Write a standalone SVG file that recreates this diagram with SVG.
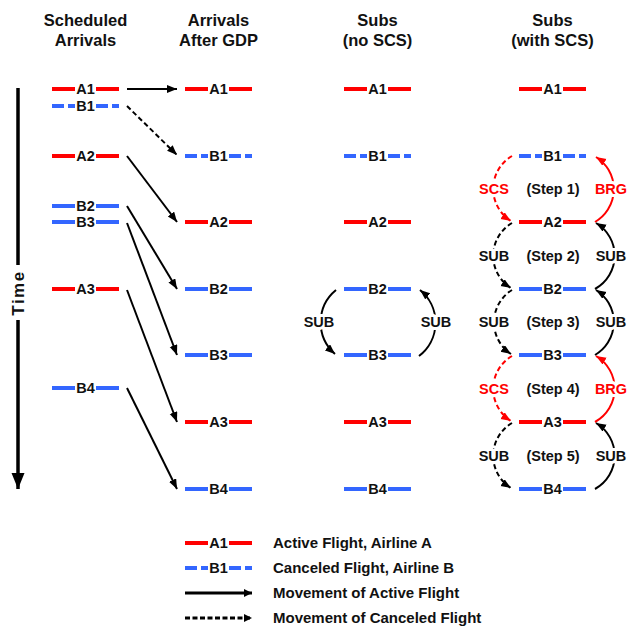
<svg xmlns="http://www.w3.org/2000/svg" width="629" height="629" viewBox="0 0 629 629">
<style>
text{font-family:"Liberation Sans",Arial,sans-serif;font-weight:bold;fill:#111}
.hd{font-size:16.5px;text-anchor:middle}
.fl{font-size:14.5px;text-anchor:middle}
.lb{font-size:14.5px;text-anchor:middle;stroke:#fff;stroke-width:6;paint-order:stroke;stroke-linejoin:round}
.lg{font-size:15px}
.red{fill:#ff0000}
.a{stroke:#ff0000;stroke-width:4}
.b{stroke:#3366ff;stroke-width:4}
.bd{stroke:#3366ff;stroke-width:4;stroke-dasharray:12 4}
.c{fill:none;stroke:#000;stroke-width:2;marker-end:url(#ah)}
.cd{fill:none;stroke:#000;stroke-width:2;stroke-dasharray:5 3;marker-end:url(#ah)}
.rc{fill:none;stroke:#ff0000;stroke-width:2;marker-end:url(#ahr)}
.rcd{fill:none;stroke:#ff0000;stroke-width:2;stroke-dasharray:5 3;marker-end:url(#ahr)}
.lgc{fill:none;stroke:#000;stroke-width:3;marker-end:url(#ahs)}
.lgcd{fill:none;stroke:#000;stroke-width:3;stroke-dasharray:5 2.5;marker-end:url(#ahs)}
</style>
<defs>
<marker id="ah" markerUnits="userSpaceOnUse" markerWidth="11" markerHeight="9" refX="10" refY="4" orient="auto"><path d="M0,0 L10,4 L0,8 z" fill="#000"/></marker>
<marker id="ahr" markerUnits="userSpaceOnUse" markerWidth="11" markerHeight="9" refX="10" refY="4" orient="auto"><path d="M0,0 L10,4 L0,8 z" fill="#ff0000"/></marker>
<marker id="ahs" markerUnits="userSpaceOnUse" markerWidth="9" markerHeight="9" refX="8" refY="4" orient="auto"><path d="M0,0 L8,4 L0,8 z" fill="#000"/></marker>
<marker id="ahT" markerUnits="userSpaceOnUse" markerWidth="17" markerHeight="14" refX="16" refY="6.5" orient="auto"><path d="M0,0 L16,6.5 L0,13 z" fill="#000"/></marker>
</defs>
<rect width="629" height="629" fill="#fff"/>

<g id="headers">
<text class="hd" x="85.5" y="26">Scheduled</text><text class="hd" x="85.5" y="46">Arrivals</text>
<text class="hd" x="218.5" y="26">Arrivals</text><text class="hd" x="218.5" y="46">After GDP</text>
<text class="hd" x="377.5" y="26">Subs</text><text class="hd" x="377.5" y="46">(no SCS)</text>
<text class="hd" x="552.5" y="26">Subs</text><text class="hd" x="552.5" y="46">(with SCS)</text>
</g>

<g id="time-axis">
<line x1="18" y1="88" x2="18" y2="265" stroke="#000" stroke-width="3.5"/>
<line x1="18" y1="320" x2="18" y2="489" stroke="#000" stroke-width="3.5" marker-end="url(#ahT)"/>
<text transform="translate(24,293) rotate(-90)" x="0" y="0" style="font-size:17px;letter-spacing:1.5px;text-anchor:middle">Time</text>
</g>

<!-- Column 1: Scheduled Arrivals -->
<g id="c1-A1"><line class="a" x1="52" y1="89" x2="75" y2="89"/><text class="fl" x="85.5" y="94">A1</text><line class="a" x1="96" y1="89" x2="119" y2="89"/></g>
<g id="c1-B1"><line class="bd" x1="52" y1="106" x2="75" y2="106"/><text class="fl" x="85.5" y="111">B1</text><line class="bd" x1="96" y1="106" x2="119" y2="106"/></g>
<g id="c1-A2"><line class="a" x1="52" y1="156" x2="75" y2="156"/><text class="fl" x="85.5" y="161">A2</text><line class="a" x1="96" y1="156" x2="119" y2="156"/></g>
<g id="c1-B2"><line class="b" x1="52" y1="206" x2="75" y2="206"/><text class="fl" x="85.5" y="211">B2</text><line class="b" x1="96" y1="206" x2="119" y2="206"/></g>
<g id="c1-B3"><line class="b" x1="52" y1="222" x2="75" y2="222"/><text class="fl" x="85.5" y="227">B3</text><line class="b" x1="96" y1="222" x2="119" y2="222"/></g>
<g id="c1-A3"><line class="a" x1="52" y1="289" x2="75" y2="289"/><text class="fl" x="85.5" y="294">A3</text><line class="a" x1="96" y1="289" x2="119" y2="289"/></g>
<g id="c1-B4"><line class="b" x1="52" y1="388" x2="75" y2="388"/><text class="fl" x="85.5" y="393">B4</text><line class="b" x1="96" y1="388" x2="119" y2="388"/></g>

<!-- Column 2: Arrivals After GDP -->
<g id="c2-A1"><line class="a" x1="185" y1="89" x2="208" y2="89"/><text class="fl" x="218.5" y="94">A1</text><line class="a" x1="229" y1="89" x2="252" y2="89"/></g>
<g id="c2-B1"><line class="bd" x1="185" y1="156" x2="208" y2="156"/><text class="fl" x="218.5" y="161">B1</text><line class="bd" x1="229" y1="156" x2="252" y2="156"/></g>
<g id="c2-A2"><line class="a" x1="185" y1="222" x2="208" y2="222"/><text class="fl" x="218.5" y="227">A2</text><line class="a" x1="229" y1="222" x2="252" y2="222"/></g>
<g id="c2-B2"><line class="b" x1="185" y1="289" x2="208" y2="289"/><text class="fl" x="218.5" y="294">B2</text><line class="b" x1="229" y1="289" x2="252" y2="289"/></g>
<g id="c2-B3"><line class="b" x1="185" y1="355" x2="208" y2="355"/><text class="fl" x="218.5" y="360">B3</text><line class="b" x1="229" y1="355" x2="252" y2="355"/></g>
<g id="c2-A3"><line class="a" x1="185" y1="422" x2="208" y2="422"/><text class="fl" x="218.5" y="427">A3</text><line class="a" x1="229" y1="422" x2="252" y2="422"/></g>
<g id="c2-B4"><line class="b" x1="185" y1="489" x2="208" y2="489"/><text class="fl" x="218.5" y="494">B4</text><line class="b" x1="229" y1="489" x2="252" y2="489"/></g>

<!-- Column 3: Subs (no SCS) -->
<g id="c3-A1"><line class="a" x1="344" y1="89" x2="367" y2="89"/><text class="fl" x="377.5" y="94">A1</text><line class="a" x1="388" y1="89" x2="411" y2="89"/></g>
<g id="c3-B1"><line class="bd" x1="344" y1="156" x2="367" y2="156"/><text class="fl" x="377.5" y="161">B1</text><line class="bd" x1="388" y1="156" x2="411" y2="156"/></g>
<g id="c3-A2"><line class="a" x1="344" y1="222" x2="367" y2="222"/><text class="fl" x="377.5" y="227">A2</text><line class="a" x1="388" y1="222" x2="411" y2="222"/></g>
<g id="c3-B2"><line class="b" x1="344" y1="289" x2="367" y2="289"/><text class="fl" x="377.5" y="294">B2</text><line class="b" x1="388" y1="289" x2="411" y2="289"/></g>
<g id="c3-B3"><line class="b" x1="344" y1="355" x2="367" y2="355"/><text class="fl" x="377.5" y="360">B3</text><line class="b" x1="388" y1="355" x2="411" y2="355"/></g>
<g id="c3-A3"><line class="a" x1="344" y1="422" x2="367" y2="422"/><text class="fl" x="377.5" y="427">A3</text><line class="a" x1="388" y1="422" x2="411" y2="422"/></g>
<g id="c3-B4"><line class="b" x1="344" y1="489" x2="367" y2="489"/><text class="fl" x="377.5" y="494">B4</text><line class="b" x1="388" y1="489" x2="411" y2="489"/></g>

<!-- Column 4: Subs (with SCS) -->
<g id="c4-A1"><line class="a" x1="519" y1="89" x2="542" y2="89"/><text class="fl" x="552.5" y="94">A1</text><line class="a" x1="563" y1="89" x2="586" y2="89"/></g>
<g id="c4-B1"><line class="bd" x1="519" y1="156" x2="542" y2="156"/><text class="fl" x="552.5" y="161">B1</text><line class="bd" x1="563" y1="156" x2="586" y2="156"/></g>
<g id="c4-A2"><line class="a" x1="519" y1="222" x2="542" y2="222"/><text class="fl" x="552.5" y="227">A2</text><line class="a" x1="563" y1="222" x2="586" y2="222"/></g>
<g id="c4-B2"><line class="b" x1="519" y1="289" x2="542" y2="289"/><text class="fl" x="552.5" y="294">B2</text><line class="b" x1="563" y1="289" x2="586" y2="289"/></g>
<g id="c4-B3"><line class="b" x1="519" y1="355" x2="542" y2="355"/><text class="fl" x="552.5" y="360">B3</text><line class="b" x1="563" y1="355" x2="586" y2="355"/></g>
<g id="c4-A3"><line class="a" x1="519" y1="422" x2="542" y2="422"/><text class="fl" x="552.5" y="427">A3</text><line class="a" x1="563" y1="422" x2="586" y2="422"/></g>
<g id="c4-B4"><line class="b" x1="519" y1="489" x2="542" y2="489"/><text class="fl" x="552.5" y="494">B4</text><line class="b" x1="563" y1="489" x2="586" y2="489"/></g>

<g id="connectors">
<!-- col1 -> col2 -->
<path class="c" d="M127,89 L177,89"/>
<path class="cd" d="M127,106 L177,155"/>
<path class="c" d="M127,156 L177,222"/>
<path class="c" d="M127,206 L177,289"/>
<path class="c" d="M127,223 L177,355"/>
<path class="c" d="M127,290 L177,422"/>
<path class="c" d="M127,388 L177,489"/>
<!-- col3 subs -->
<path class="c" d="M336,290 A42,42 0 0 0 335,354"/>
<path class="c" d="M419,356 A42,42 0 0 0 420,290"/>
<!-- col4 left (downward) -->
<path class="rcd" d="M512,156 A38,38 0 0 0 511,221"/>
<path class="cd" d="M512,223 A38,38 0 0 0 511,288"/>
<path class="cd" d="M512,290 A38,38 0 0 0 511,354"/>
<path class="rcd" d="M512,356 A38,38 0 0 0 511,421"/>
<path class="cd" d="M512,423 A38,38 0 0 0 511,488"/>
<!-- col4 right (upward) -->
<path class="rc" d="M595,222 A38,38 0 0 0 596,157"/>
<path class="c" d="M595,289 A38,38 0 0 0 596,223"/>
<path class="c" d="M595,355 A38,38 0 0 0 596,290"/>
<path class="rc" d="M595,422 A38,38 0 0 0 596,356"/>
<path class="c" d="M595,489 A38,38 0 0 0 596,423"/>
</g>

<g id="arc-labels">
<text class="lb" x="319" y="327">SUB</text>
<text class="lb" x="436" y="327">SUB</text>
<text class="lb red" x="494" y="194">SCS</text><text class="lb" x="553" y="194">(Step 1)</text><text class="lb red" x="611" y="194">BRG</text>
<text class="lb" x="494" y="261">SUB</text><text class="lb" x="553" y="261">(Step 2)</text><text class="lb" x="611" y="261">SUB</text>
<text class="lb" x="494" y="327">SUB</text><text class="lb" x="553" y="327">(Step 3)</text><text class="lb" x="611" y="327">SUB</text>
<text class="lb red" x="494" y="394">SCS</text><text class="lb" x="553" y="394">(Step 4)</text><text class="lb red" x="611" y="394">BRG</text>
<text class="lb" x="494" y="461">SUB</text><text class="lb" x="553" y="461">(Step 5)</text><text class="lb" x="611" y="461">SUB</text>
</g>

<g id="legend">
<line class="a" x1="185" y1="543" x2="208" y2="543"/><text class="fl" x="218.5" y="548">A1</text><line class="a" x1="229" y1="543" x2="252" y2="543"/>
<text class="lg" x="273" y="548">Active Flight, Airline A</text>
<line class="bd" x1="185" y1="568" x2="208" y2="568"/><text class="fl" x="218.5" y="573">B1</text><line class="bd" x1="229" y1="568" x2="252" y2="568"/>
<text class="lg" x="273" y="573">Canceled Flight, Airline B</text>
<path class="lgc" d="M185,593 L252,593"/>
<text class="lg" x="273" y="598">Movement of Active Flight</text>
<path class="lgcd" d="M185,618 L252,618"/>
<text class="lg" x="273" y="623">Movement of Canceled Flight</text>
</g>
</svg>
